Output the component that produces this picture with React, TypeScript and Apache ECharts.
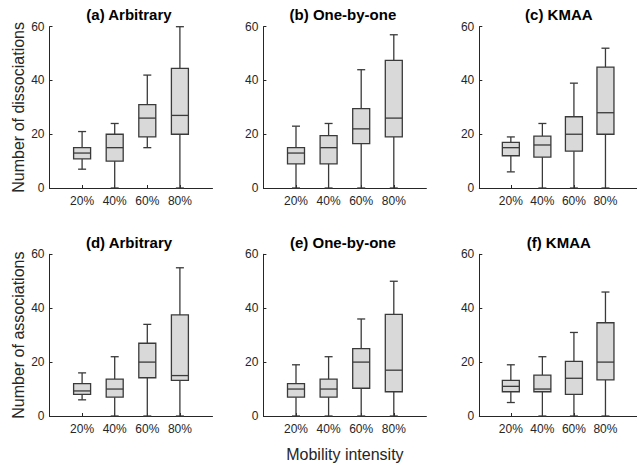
import React, { useEffect, useRef } from "react";
import * as echarts from "echarts";

// Category labels along the x axis
const categories = ["20%", "40%", "60%", "80%"];
const yTicks = [0, 20, 40, 60];

const panelTitles = [
  "(a) Arbitrary",
  "(b) One-by-one",
  "(c) KMAA",
  "(d) Arbitrary",
  "(e) One-by-one",
  "(f) KMAA",
];

// Each row: [min, q1, median, q3, max] for 20%, 40%, 60%, 80%
const arbitraryDissociations = [
  [7, 10.8, 13, 15, 21],
  [0, 10, 15, 20, 24],
  [15, 19, 26, 31, 42],
  [0, 20, 27, 44.5, 60],
];
const oneByOneDissociations = [
  [0, 9, 13, 15, 23],
  [0, 9, 15, 19.5, 24],
  [0, 16.5, 22, 29.5, 44],
  [0, 19, 26, 47.5, 57],
];
const kmaaDissociations = [
  [6, 12, 15, 17, 19],
  [0, 11.5, 16, 19.3, 24],
  [0, 13.7, 20, 26.5, 39],
  [0, 20, 28, 45, 52],
];
const arbitraryAssociations = [
  [6, 8, 9.3, 12, 16],
  [0, 7, 10, 13.7, 22],
  [0, 14.2, 20, 27, 34],
  [0, 13.2, 15, 37.5, 55],
];
const oneByOneAssociations = [
  [0, 7, 10, 12, 19],
  [0, 7, 10, 13.7, 22],
  [0, 10.3, 20, 25, 36],
  [0, 9, 17, 37.7, 50],
];
const kmaaAssociations = [
  [5, 9, 11, 13.2, 19],
  [0, 9, 10, 15.2, 22],
  [0, 8, 14, 20.3, 31],
  [0, 13.4, 20, 34.6, 46],
];

const panelData = [
  arbitraryDissociations,
  oneByOneDissociations,
  kmaaDissociations,
  arbitraryAssociations,
  oneByOneAssociations,
  kmaaAssociations,
];

const FONT = "'Liberation Sans', Arial, Helvetica, sans-serif";
const TEXT = "#262626";
const AXIS = "#262626";
const EDGE = "#3a3a3a";
const FILL = "#d9d9d9";

export default function App() {
  const ref = useRef<HTMLDivElement>(null);

  useEffect(() => {
    document.body.style.margin = "0";
    if (!ref.current) return;
    const chart = echarts.init(ref.current, null, { renderer: "svg" });

    const lefts = [49.5, 263.4, 479.3];
    const tops = [26.7, 254.3];
    const heights = [161.3, 161.7];
    const W = 163;

    const grids: any[] = [];
    const xAxes: any[] = [];
    const yAxes: any[] = [];
    const series: any[] = [];
    const titles: any[] = [];

    for (let i = 0; i < 6; i++) {
      const row = Math.floor(i / 3);
      const col = i % 3;
      grids.push({
        left: lefts[col],
        top: tops[row],
        width: W,
        height: heights[row],
        containLabel: false,
      });
      titles.push({
        text: panelTitles[i],
        left: lefts[col] + W / 2 - 2,
        top: row === 0 ? 7 : 234.5,
        textAlign: "center",
        padding: 0,
        textStyle: {
          fontFamily: FONT,
          fontSize: 15,
          fontWeight: "bold",
          color: "#000",
        },
      });
      xAxes.push({
        gridIndex: i,
        type: "value",
        min: 0,
        max: 5,
        interval: 1,
        name: i === 4 ? "Mobility intensity" : "",
        nameLocation: "middle",
        nameGap: 30,
        nameTextStyle: { fontFamily: FONT, fontSize: 16, color: TEXT },
        axisLine: { show: true, lineStyle: { color: AXIS, width: 1 } },
        axisTick: {
          show: true,
          inside: true,
          length: 3,
          customValues: [1, 2, 3, 4],
          lineStyle: { color: AXIS },
        },
        axisLabel: {
          customValues: [1, 2, 3, 4],
          formatter: (v: number) =>
            v >= 1 && v <= 4 ? categories[Math.round(v) - 1] : "",
          fontFamily: FONT,
          fontSize: 12,
          color: TEXT,
          margin: 7,
        },
        splitLine: { show: false },
      });
      yAxes.push({
        gridIndex: i,
        type: "value",
        min: 0,
        max: 60,
        interval: 20,
        name:
          col === 0
            ? row === 0
              ? "Number of dissociations"
              : "Number of associations"
            : "",
        nameLocation: "middle",
        nameGap: 23,
        nameTextStyle: { fontFamily: FONT, fontSize: 16, color: TEXT },
        axisLine: { show: true, lineStyle: { color: AXIS, width: 1 } },
        axisTick: {
          show: true,
          inside: true,
          length: 3,
          customValues: yTicks,
          lineStyle: { color: AXIS },
        },
        axisLabel: {
          fontFamily: FONT,
          fontSize: 12,
          color: TEXT,
          margin: 5,
        },
        splitLine: { show: false },
      });
      const rows = panelData[i].map((d, k) => [k + 1, ...d]);
      series.push({
        type: "custom",
        xAxisIndex: i,
        yAxisIndex: i,
        coordinateSystem: "cartesian2d",
        encode: { x: 0, y: [1, 2, 3, 4, 5] },
        data: rows,
        renderItem: (params: any, api: any) => {
          const x = api.value(0);
          const pMin = api.coord([x, api.value(1)]);
          const pQ1 = api.coord([x, api.value(2)]);
          const pMed = api.coord([x, api.value(3)]);
          const pQ3 = api.coord([x, api.value(4)]);
          const pMax = api.coord([x, api.value(5)]);
          const cx = pMin[0];
          const hw = 8.5;
          const cap = 4;
          const ls = { stroke: EDGE, lineWidth: 1.3, fill: null };
          return {
            type: "group",
            children: [
              {
                type: "line",
                shape: { x1: cx, y1: pMax[1], x2: cx, y2: pQ3[1] },
                style: ls,
              },
              {
                type: "line",
                shape: { x1: cx, y1: pQ1[1], x2: cx, y2: pMin[1] },
                style: ls,
              },
              {
                type: "line",
                shape: { x1: cx - cap, y1: pMax[1], x2: cx + cap, y2: pMax[1] },
                style: ls,
              },
              {
                type: "line",
                shape: { x1: cx - cap, y1: pMin[1], x2: cx + cap, y2: pMin[1] },
                style: ls,
              },
              {
                type: "rect",
                shape: {
                  x: cx - hw,
                  y: pQ3[1],
                  width: hw * 2,
                  height: pQ1[1] - pQ3[1],
                },
                style: { fill: FILL, stroke: EDGE, lineWidth: 1.3 },
              },
              {
                type: "line",
                shape: { x1: cx - hw, y1: pMed[1], x2: cx + hw, y2: pMed[1] },
                style: ls,
              },
            ],
          };
        },
      });
    }

    chart.setOption({
      animation: false,
      backgroundColor: "#ffffff",
      title: titles,
      grid: grids,
      xAxis: xAxes,
      yAxis: yAxes,
      series,
    });

    return () => {
      chart.dispose();
    };
  }, []);

  return <div ref={ref} style={{ width: 637, height: 464 }} />;
}
